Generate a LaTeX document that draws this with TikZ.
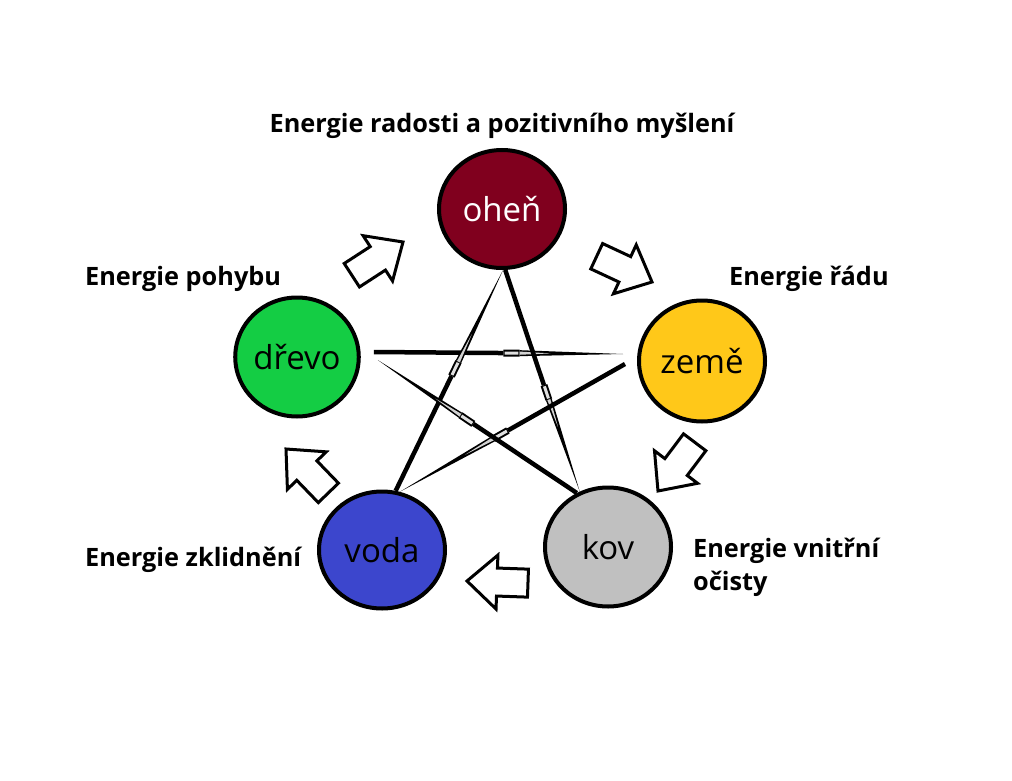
\documentclass[tikz,border=0pt]{standalone}
\usepackage{fontspec}
\setmainfont{Open Sans}
\usetikzlibrary{calc,shapes.geometric}
\definecolor{cfire}{RGB}{128,0,30}
\definecolor{cwood}{RGB}{20,205,68}
\definecolor{cearth}{RGB}{255,200,25}
\definecolor{cmetal}{RGB}{192,192,192}
\definecolor{cwater}{RGB}{60,70,205}
\newcommand\blockarrow[3]{\draw[blockarr, shift={(#1,#2)}, rotate=#3] (0,0) -- (-30,27) -- (-30,14) -- (-61,14) -- (-61,-14) -- (-30,-14) -- (-30,-27) -- cycle;}
\newcommand\starline[2]{%
  \coordinate (tmpA) at ($(#1)!0.52!(#2)$);
  \coordinate (tmpB) at ($(#1)!0.585!(#2)$);
  \draw[line width=4.5pt] (#1) -- (tmpA);
  \draw[line width=7pt] (tmpA) -- (tmpB);
  \draw[line width=3pt, gray!25, shorten <=1.2pt, shorten >=1.2pt] (tmpA) -- (tmpB);
  \fill ($(tmpB)!3pt!90:(#2)$) -- (#2) -- ($(tmpB)!3pt!-90:(#2)$) -- cycle;
  \fill[gray!35] ($(tmpB)!1.6pt!90:(#2)$) -- ($(tmpB)!0.3!(#2)$) -- ($(tmpB)!1.6pt!-90:(#2)$) -- cycle;
}
\begin{document}
\begin{tikzpicture}[x=1pt,y=-1pt,
  elem/.style={ellipse, draw=black, line width=4pt, inner sep=0pt,
    font=\fontsize{33}{40}\selectfont},
  lbl/.style={font=\bfseries\fontsize{25.3}{31}\selectfont, inner sep=0pt},
  blockarr/.style={draw=black, line width=3pt, fill=white, line join=miter}]
\useasboundingbox[fill=white] (0,0) rectangle (1012,781);

% elements
\node[elem, fill=cfire, text=white, minimum width=126pt, minimum height=118pt] (ohen) at (502,209) {oheň};
\node[elem, fill=cwood, minimum width=121pt, minimum height=119pt] (drevo) at (297,357) {dřevo};
\node[elem, fill=cearth, minimum width=126pt, minimum height=121pt] (zeme) at (702,361) {země};
\node[elem, fill=cmetal, minimum width=126pt, minimum height=119pt] (kov) at (608,547) {kov};
\node[elem, fill=cwater, minimum width=126pt, minimum height=117pt] (voda) at (382,550) {voda};

% labels
\node[lbl, anchor=base] (lohen) at (502,132) {Energie radosti a pozitivního myšlení};
\node[lbl, anchor=base west] (ldrevo) at (85,285) {Energie pohybu};
\node[lbl, anchor=base west] (lzeme) at (729,285) {Energie řádu};
\node[lbl, anchor=base west] (lkov1) at (693,557) {Energie vnitřní};
\node[lbl, anchor=base west] (lkov2) at (693,590) {očisty};
\node[lbl, anchor=base west] (lvoda) at (85,566) {Energie zklidnění};

% star connector end points
\coordinate (o1) at (ohen.-87);
\coordinate (o2) at (ohen.-89);
\coordinate (k1) at (kov.117);
\coordinate (k2) at (kov.120);
\coordinate (v1) at (voda.77);
\coordinate (v2) at (voda.73);
\coordinate (d1) at ($(drevo.east)+(13,-5)$);
\coordinate (d2) at ($(drevo.east)+(17,3)$);
\coordinate (z1) at ($(zeme.west)+(-14,-7)$);
\coordinate (z2) at ($(zeme.west)+(-12,3)$);

\starline{d1}{z1}
\starline{o1}{k1}
\starline{z2}{v2}
\starline{v1}{o2}
\starline{k2}{d2}

% cycle arrows
\blockarrow{403}{242}{33}
\blockarrow{652}{282}{-25}
\blockarrow{658}{491}{-127}
\blockarrow{467}{581}{178}
\blockarrow{286}{449}{134}
\end{tikzpicture}
\end{document}
